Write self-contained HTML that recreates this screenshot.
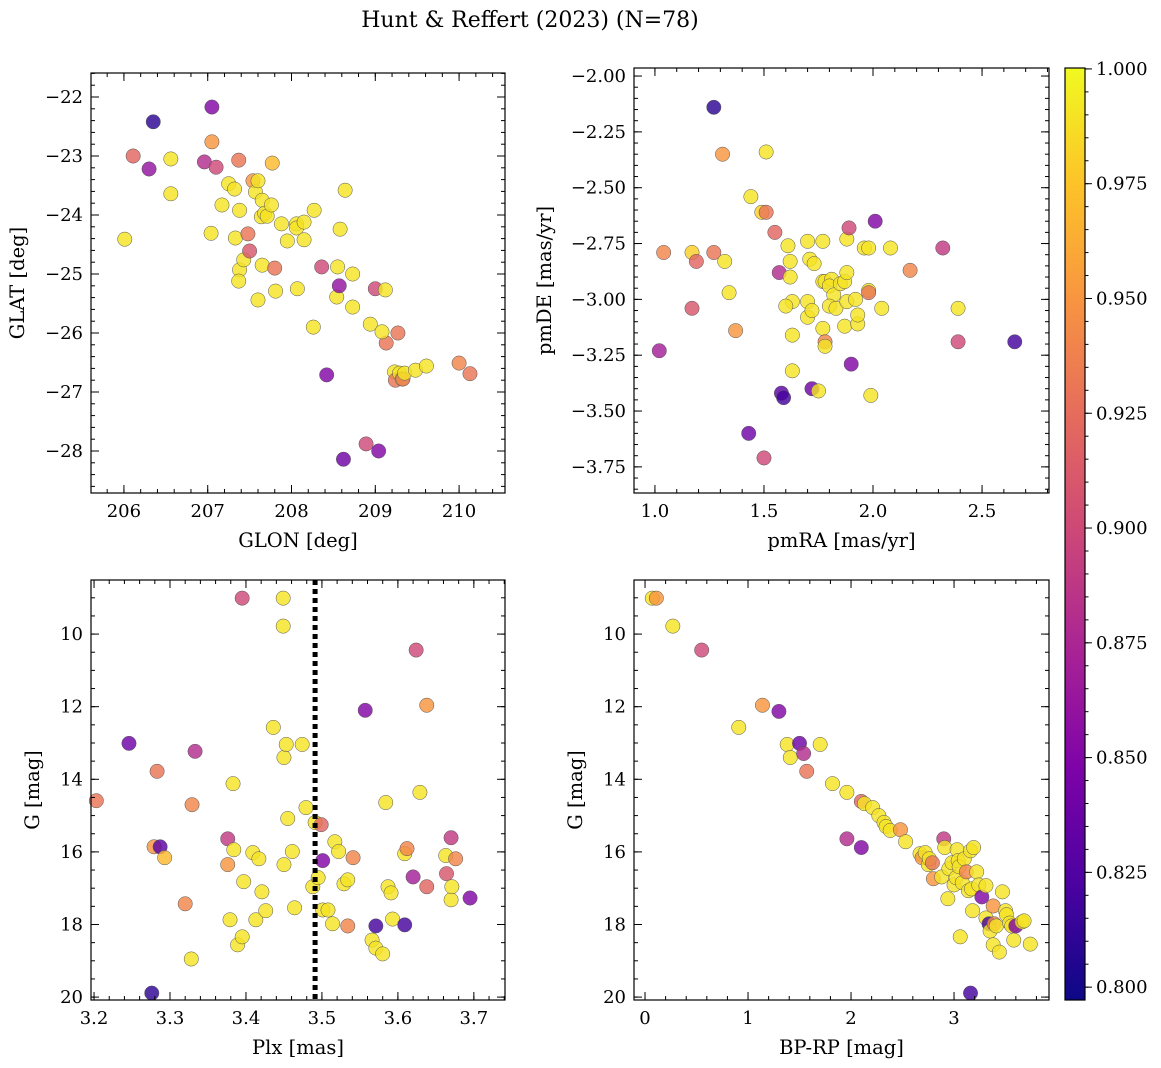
<!DOCTYPE html>
<html><head><meta charset="utf-8">
<style>
html,body{margin:0;padding:0;background:#fff;}
svg{display:block;font-family:"DejaVu Serif","Liberation Serif",serif;}
</style></head>
<body>
<svg id="fig" width="1161" height="1068" viewBox="0 0 1161 1068" xmlns="http://www.w3.org/2000/svg">
<defs>
<linearGradient id="plasma" x1="0" y1="1" x2="0" y2="0">
<stop offset="0" stop-color="#0d0887"/><stop offset="0.125" stop-color="#4c02a1"/><stop offset="0.25" stop-color="#7e03a8"/><stop offset="0.375" stop-color="#a92395"/><stop offset="0.5" stop-color="#cc4778"/><stop offset="0.625" stop-color="#e56b5d"/><stop offset="0.75" stop-color="#f89441"/><stop offset="0.875" stop-color="#fdc328"/><stop offset="1" stop-color="#f0f921"/>
</linearGradient>
</defs>
<text x="530" y="27" font-size="22" text-anchor="middle">Hunt &amp; Reffert (2023) (N=78)</text>
</svg>
<script>
// ---- Panel 1 data: GLON vs GLAT ----
const p1Glon=[206.01,206.11,206.30,206.35,206.56,206.56,206.96,207.05,207.05,207.10,207.04,207.17,207.25,207.32,207.33,207.37,207.38,207.38,207.37,207.43,207.48,207.50,207.54,207.57,207.60,207.60,207.64,207.65,207.68,207.65,207.71,207.76,207.77,207.80,207.81,207.88,207.95,208.06,208.07,208.06,208.15,208.15,208.26,208.27,208.36,208.42,208.54,208.57,208.55,208.58,208.64,208.62,208.73,208.73,208.89,208.94,209.00,209.04,209.12,209.13,209.08,209.23,209.27,209.24,209.29,209.32,209.33,209.35,209.48,209.61,210.00,210.13];
const p1Glat=[-24.41,-23.00,-23.22,-22.42,-23.05,-23.64,-23.10,-22.17,-22.76,-23.19,-24.31,-23.83,-23.47,-23.56,-24.39,-23.07,-23.92,-24.93,-25.12,-24.76,-24.32,-24.61,-23.42,-23.61,-23.42,-25.44,-24.03,-23.75,-23.97,-24.85,-24.02,-23.83,-23.12,-24.90,-25.29,-24.15,-24.44,-24.15,-25.25,-24.22,-24.12,-24.42,-25.90,-23.92,-24.88,-26.71,-25.39,-25.20,-24.88,-24.24,-23.58,-28.14,-25.00,-25.56,-27.88,-25.85,-25.25,-28.00,-25.27,-26.17,-25.98,-26.66,-26.00,-26.80,-26.68,-26.78,-26.78,-26.68,-26.63,-26.56,-26.51,-26.69];
const p1Prob=[0.99,0.92,0.86,0.81,0.99,0.99,0.88,0.85,0.95,0.90,0.99,0.99,0.99,0.99,0.99,0.93,0.99,0.99,0.99,0.99,0.93,0.91,0.95,0.99,0.99,0.99,0.99,0.99,0.99,0.99,0.99,0.99,0.97,0.93,0.99,0.99,0.99,0.99,0.99,0.99,0.99,0.99,0.99,0.99,0.90,0.85,0.99,0.86,0.99,0.99,0.99,0.84,0.99,0.99,0.90,0.99,0.90,0.85,0.99,0.93,0.99,0.99,0.93,0.93,0.99,0.99,0.93,0.99,0.99,0.99,0.94,0.93];
// ---- Panel 2 data: pmRA vs pmDE ----
const p2PmRA=[1.27,1.31,1.51,1.44,1.49,1.51,1.02,1.04,1.17,1.19,1.27,1.32,1.34,1.37,1.17,1.55,1.57,1.61,1.62,1.62,1.63,1.63,1.63,1.60,1.58,1.59,1.43,1.50,1.70,1.71,1.73,1.70,1.70,1.72,1.72,1.75,1.77,1.77,1.78,1.77,1.78,1.78,1.81,1.80,1.82,1.80,1.83,1.85,1.87,1.88,1.89,1.88,1.88,1.87,1.90,1.92,1.93,1.93,1.96,1.98,1.98,1.98,1.99,2.01,2.04,2.08,2.17,2.32,2.39,2.39,2.65];
const p2PmDE=[-2.14,-2.35,-2.34,-2.54,-2.61,-2.61,-3.23,-2.79,-2.79,-2.83,-2.79,-2.83,-2.97,-3.14,-3.04,-2.70,-2.88,-2.76,-2.83,-2.90,-3.01,-3.16,-3.32,-3.03,-3.42,-3.44,-3.60,-3.71,-2.74,-2.82,-2.84,-3.01,-3.08,-3.05,-3.40,-3.41,-2.74,-2.92,-2.92,-3.13,-3.19,-3.21,-2.91,-2.94,-2.98,-3.03,-3.04,-2.93,-2.92,-2.73,-2.68,-2.88,-3.01,-3.12,-3.29,-3.00,-3.11,-3.07,-2.77,-2.77,-2.96,-2.97,-3.43,-2.65,-3.04,-2.77,-2.87,-2.77,-3.19,-3.04,-3.19];
const p2Prob=[0.81,0.95,0.99,0.99,0.98,0.93,0.87,0.94,0.98,0.92,0.93,0.99,0.99,0.95,0.91,0.92,0.88,0.99,0.99,0.99,0.99,0.99,0.99,0.99,0.83,0.82,0.84,0.90,0.99,0.99,0.99,0.99,0.99,0.99,0.84,0.99,0.99,0.99,0.99,0.99,0.94,0.99,0.99,0.99,0.99,0.99,0.99,0.99,0.99,0.99,0.90,0.99,0.99,0.99,0.85,0.99,0.99,0.99,0.99,0.99,0.99,0.93,0.99,0.85,0.99,0.99,0.94,0.89,0.90,0.99,0.82];
// ---- Panel 3 data: Plx vs G ----
const p3Plx=[3.203,3.246,3.276,3.279,3.287,3.283,3.293,3.320,3.329,3.333,3.328,3.376,3.376,3.379,3.383,3.384,3.389,3.395,3.395,3.397,3.409,3.413,3.417,3.421,3.426,3.436,3.449,3.449,3.450,3.450,3.453,3.455,3.461,3.464,3.474,3.479,3.488,3.491,3.495,3.499,3.501,3.501,3.508,3.514,3.517,3.522,3.529,3.534,3.534,3.541,3.557,3.566,3.571,3.571,3.580,3.584,3.587,3.591,3.593,3.609,3.609,3.612,3.620,3.624,3.629,3.638,3.638,3.663,3.664,3.670,3.670,3.671,3.676,3.695];
const p3G=[14.59,13.01,19.89,15.86,15.86,13.78,16.16,17.43,14.70,13.23,18.95,15.64,16.35,17.87,14.12,15.94,18.56,9.01,18.34,16.82,16.02,17.87,16.19,17.10,17.62,12.57,9.01,9.78,13.40,16.35,13.04,15.08,15.99,17.54,13.04,14.78,16.96,15.19,16.71,15.25,16.24,17.60,17.60,17.98,15.72,15.99,16.88,16.77,18.04,16.16,12.10,18.43,18.65,18.04,18.81,14.64,16.96,17.13,17.85,18.01,16.05,15.91,16.69,10.44,14.36,11.96,16.96,16.10,16.60,15.61,17.32,16.96,16.19,17.27];
const p3Prob=[0.93,0.84,0.81,0.95,0.83,0.93,0.97,0.94,0.94,0.88,0.99,0.89,0.95,0.99,0.99,0.99,0.99,0.90,0.99,0.99,0.99,0.99,0.99,0.99,0.99,0.99,0.99,0.99,0.99,0.99,0.99,0.99,0.99,0.99,0.99,0.99,0.99,0.99,0.99,0.92,0.85,0.99,0.99,0.99,0.99,0.99,0.99,0.99,0.94,0.94,0.85,0.99,0.99,0.82,0.99,0.99,0.99,0.99,0.99,0.82,0.99,0.94,0.87,0.90,0.99,0.95,0.92,0.99,0.91,0.89,0.99,0.99,0.94,0.85];
const plxLine=[3.491];
// ---- Panel 4 data: BP-RP vs G ----
const p4Color=[0.07,0.11,0.27,0.55,0.91,1.14,1.30,1.38,1.41,1.50,1.54,1.57,1.70,1.82,1.96,1.96,2.10,2.10,2.13,2.21,2.27,2.32,2.34,2.38,2.48,2.53,2.67,2.69,2.72,2.75,2.76,2.79,2.80,2.88,2.90,2.91,2.94,2.95,2.98,3.00,3.02,3.03,3.04,3.05,3.06,3.08,3.10,3.12,3.14,3.16,3.17,3.18,3.19,3.22,3.24,3.27,3.31,3.31,3.34,3.35,3.38,3.38,3.39,3.41,3.44,3.47,3.50,3.51,3.54,3.56,3.58,3.60,3.66,3.68,3.74,3.16];
const p4G=[9.01,9.01,9.78,10.44,12.57,11.96,12.13,13.04,13.40,13.01,13.29,13.78,13.04,14.12,15.64,14.36,14.61,15.88,14.67,14.78,15.00,15.19,15.30,15.41,15.39,15.72,16.05,16.16,16.02,16.35,16.19,16.30,16.74,16.69,15.64,15.88,17.29,16.46,16.30,16.91,16.71,15.94,16.24,16.41,18.34,16.85,16.19,16.55,17.07,15.97,17.02,17.62,15.88,16.55,16.91,17.24,17.82,16.93,17.98,18.18,17.49,18.56,17.98,18.04,18.76,17.10,17.62,17.73,17.96,18.04,18.43,18.04,17.93,17.90,18.54,19.89];
const p4Prob=[0.99,0.95,0.99,0.90,0.99,0.95,0.85,0.99,0.99,0.84,0.88,0.93,0.99,0.99,0.88,0.99,0.92,0.85,0.99,0.99,0.99,0.99,0.99,0.99,0.95,0.99,0.99,0.95,0.99,0.99,0.99,0.93,0.95,0.99,0.89,0.99,0.99,0.99,0.99,0.99,0.99,0.99,0.99,0.99,0.99,0.99,0.99,0.94,0.99,0.99,0.99,0.99,0.99,0.99,0.99,0.85,0.99,0.99,0.82,0.99,0.95,0.99,0.94,0.99,0.99,0.99,0.99,0.99,0.99,0.99,0.99,0.85,0.99,0.99,0.99,0.82];
// ---- Tick labels ----
const p1XTicks=[206,207,208,209,210];
const p1YTicks=[-22,-23,-24,-25,-26,-27,-28];
const p2XTicks=[1.0,1.5,2.0,2.5];
const p2YTicks=[-2.00,-2.25,-2.50,-2.75,-3.00,-3.25,-3.50,-3.75];
const p3XTicks=[3.2,3.3,3.4,3.5,3.6,3.7];
const gTicks=[10,12,14,16,18,20];
const p4XTicks=[0,1,2,3];
const cbTicks=[0.800,0.825,0.850,0.875,0.900,0.925,0.950,0.975,1.000];

const NS="http://www.w3.org/2000/svg";
const svg=document.getElementById('fig');
function mk(tag,attrs,parent){const e=document.createElementNS(NS,tag);for(const k in attrs)e.setAttribute(k,attrs[k]);(parent||svg).appendChild(e);return e;}
const stops=[[13,8,135],[76,2,161],[126,3,168],[169,35,149],[204,71,120],[229,107,93],[248,148,65],[253,195,40],[240,249,33]];
const CMIN=0.7972,CMAX=1.0002;
function plasma(v){let t=(v-CMIN)/(CMAX-CMIN);t=Math.max(0,Math.min(1,t));const f=t*8,i=Math.min(7,Math.floor(f)),r=f-i;const a=stops[i],b=stops[i+1];return 'rgb('+a.map((c,j)=>Math.round(c+(b[j]-c)*r)).join(',')+')';}
function fmt(v,d){const s=Math.abs(v).toFixed(d);return (v<0?'\u2212':'')+s;}

function panel(o){
  const g=mk('g',{});
  
  
  const sx=v=>o.x0+(v-o.dx[0])/(o.dx[1]-o.dx[0])*(o.x1-o.x0);
  const sy=v=>o.y1-(v-o.dy[0])/(o.dy[1]-o.dy[0])*(o.y1-o.y0);
  const pg=mk('g',{},g);
  
  
  for(let i=0;i<o.xs.length;i++){
    const c=mk('circle',{cx:sx(o.xs[i]),cy:sy(o.ys[i]),r:7.2,fill:plasma(o.cs[i]),'fill-opacity':0.82,stroke:'#555','stroke-width':0.5},pg);
    
    
  }
  if(o.vline){o.vline.forEach(v=>{const l=mk('line',{x1:sx(v),x2:sx(v),y1:o.y0,y2:o.y1,stroke:'#000','stroke-width':5,'stroke-dasharray':'5,4'},g);
    
    });}
  const fr=mk('rect',{x:o.x0,y:o.y0,width:o.x1-o.x0,height:o.y1-o.y0,fill:'none',stroke:'#000','stroke-width':1.2},g);
  
  
  const lo=Math.min(...o.dx),hi=Math.max(...o.dx);
  for(let v=Math.ceil(lo/o.mx)*o.mx;v<=hi;v+=o.mx){const x=sx(v);mk('line',{x1:x,x2:x,y1:o.y1,y2:o.y1-4,stroke:'#000'},g);mk('line',{x1:x,x2:x,y1:o.y0,y2:o.y0+4,stroke:'#000'},g);}
  const ylo=Math.min(...o.dy),yhi=Math.max(...o.dy);
  for(let v=Math.ceil(ylo/o.my)*o.my;v<=yhi;v+=o.my){const y=sy(v);mk('line',{x1:o.x0,x2:o.x0+4,y1:y,y2:y,stroke:'#000'},g);mk('line',{x1:o.x1,x2:o.x1-4,y1:y,y2:y,stroke:'#000'},g);}
  o.xt.forEach(v=>{const x=sx(v);mk('line',{x1:x,x2:x,y1:o.y1,y2:o.y1-8,stroke:'#000'},g);mk('line',{x1:x,x2:x,y1:o.y0,y2:o.y0+8,stroke:'#000'},g);
    const t=mk('text',{x:x,y:o.y1+24,'font-size':18,'text-anchor':'middle'},g);t.textContent=fmt(v,o.xd);
    
    });
  o.yt.forEach(v=>{const y=sy(v);mk('line',{x1:o.x0,x2:o.x0+8,y1:y,y2:y,stroke:'#000'},g);mk('line',{x1:o.x1,x2:o.x1-8,y1:y,y2:y,stroke:'#000'},g);
    const t=mk('text',{x:o.x0-8,y:y+6,'font-size':18,'text-anchor':'end'},g);t.textContent=fmt(v,o.yd);
    
    });
  const xl=mk('text',{x:(o.x0+o.x1)/2,y:o.y1+54,'font-size':19.5,'text-anchor':'middle'},g);xl.textContent=o.xlabel;
  
  
  const yx=o.ylx,yy=(o.y0+o.y1)/2;
  const yl=mk('text',{x:yx,y:yy,'font-size':19.5,'text-anchor':'middle',transform:'rotate(-90 '+yx+' '+yy+')'},g);yl.textContent=o.ylabel;
  
  
}

panel({name:'panel-glon-glat',x0:91,x1:505,y0:73,y1:493,dx:[205.607,210.548],dy:[-28.712,-21.593],xs:p1Glon,ys:p1Glat,cs:p1Prob,xt:p1XTicks,yt:p1YTicks,xd:0,yd:0,mx:0.2,my:0.2,xlabel:'GLON [deg]',ylabel:'GLAT [deg]',ylx:24});
panel({name:'panel-pm',x0:634,x1:1049,y0:68,y1:493,dx:[0.904,2.807],dy:[-3.867,-1.964],xs:p2PmRA,ys:p2PmDE,cs:p2Prob,xt:p2XTicks,yt:p2YTicks,xd:1,yd:2,mx:0.1,my:0.05,xlabel:'pmRA [mas/yr]',ylabel:'pmDE [mas/yr]',ylx:551});
panel({name:'panel-plx-g',x0:91,x1:505,y0:580,y1:1000,dx:[3.196,3.741],dy:[20.08,8.51],xs:p3Plx,ys:p3G,cs:p3Prob,xt:p3XTicks,yt:gTicks,xd:1,yd:0,mx:0.02,my:0.5,xlabel:'Plx [mas]',ylabel:'G [mag]',ylx:39,vline:plxLine});
panel({name:'panel-cmd',x0:634,x1:1049,y0:580,y1:1000,dx:[-0.107,3.922],dy:[20.08,8.51],xs:p4Color,ys:p4G,cs:p4Prob,xt:p4XTicks,yt:gTicks,xd:0,yd:0,mx:0.2,my:0.5,xlabel:'BP-RP [mag]',ylabel:'G [mag]',ylx:582});

(function(){
  const g=mk('g',{});
  
  
  const x0=1065,x1=1085,y0=68,y1=1000;
  const sy=v=>y1-(v-CMIN)/(CMAX-CMIN)*(y1-y0);
  mk('rect',{x:x0,y:y0,width:x1-x0,height:y1-y0,fill:'url(#plasma)',stroke:'#000','stroke-width':1.2},g);
  for(let v=0.800;v<=1.0001;v+=0.005){const y=sy(v);mk('line',{x1:x1,x2:x1+3.5,y1:y,y2:y,stroke:'#000'},g);}
  cbTicks.forEach(v=>{const y=sy(v);mk('line',{x1:x1,x2:x1+7,y1:y,y2:y,stroke:'#000'},g);
    const t=mk('text',{x:x1+11,y:y+6,'font-size':18},g);t.textContent=v.toFixed(3);
    
    });
})();
</script>
</body></html>
